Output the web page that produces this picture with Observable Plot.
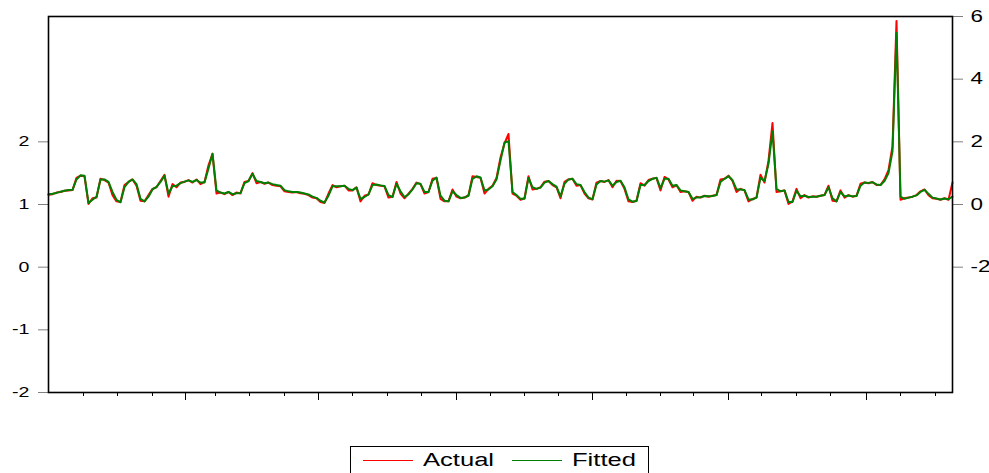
<!DOCTYPE html>
<html><head><meta charset="utf-8">
<script src="https://cdn.jsdelivr.net/npm/d3@7"></script>
<script src="https://cdn.jsdelivr.net/npm/@observablehq/plot@0.6"></script>
<style>
body{margin:0;background:#fff;}
#wrap{position:relative;width:989px;height:473px;overflow:hidden;background:#fff;}
#legend{position:absolute;left:350px;top:446px;width:299px;height:34px;border:1px solid #000;box-sizing:border-box;font-family:"Liberation Sans",Arial,sans-serif;font-size:18px;color:#000;background:#fff;}
#legend .sw{position:absolute;top:13px;width:50px;height:1.2px;}
#legend .lb{position:absolute;top:2px;line-height:22px;transform-origin:0 50%;transform:scaleX(1.42);white-space:nowrap;}
</style></head><body><div id="wrap"><div id="chart"></div><div id="legend"></div></div>
<script>
// Observations (evenly spaced), right-hand axis units
const actual = [
0.31,0.33,0.38,0.40,0.44,0.45,0.46,0.85,0.92,0.90,
0.02,0.20,0.22,0.82,0.78,0.70,0.30,0.10,0.08,0.62,
0.72,0.80,0.60,0.12,0.10,0.30,0.50,0.55,0.75,0.95,
0.25,0.65,0.55,0.70,0.72,0.78,0.70,0.80,0.65,0.72,
1.25,1.62,0.35,0.38,0.33,0.40,0.30,0.38,0.35,0.72,
0.75,1.00,0.68,0.72,0.66,0.70,0.62,0.60,0.58,0.42,
0.40,0.38,0.40,0.36,0.34,0.30,0.22,0.20,0.08,0.05,
0.35,0.62,0.55,0.58,0.60,0.45,0.45,0.55,0.10,0.28,
0.32,0.68,0.62,0.60,0.58,0.22,0.25,0.72,0.35,0.20,
0.35,0.50,0.70,0.65,0.35,0.40,0.82,0.85,0.18,0.10,
0.10,0.48,0.25,0.20,0.22,0.30,0.90,0.88,0.85,0.35,
0.50,0.60,0.85,1.50,1.95,2.25,0.35,0.28,0.15,0.20,
0.90,0.48,0.50,0.55,0.73,0.75,0.62,0.55,0.20,0.72,
0.80,0.82,0.60,0.62,0.35,0.20,0.16,0.70,0.75,0.72,
0.78,0.55,0.76,0.75,0.50,0.10,0.08,0.12,0.68,0.60,
0.78,0.82,0.85,0.45,0.88,0.80,0.55,0.62,0.40,0.42,
0.40,0.12,0.25,0.22,0.28,0.25,0.28,0.30,0.80,0.82,
0.92,0.75,0.40,0.50,0.45,0.10,0.18,0.22,0.95,0.70,
1.40,2.60,0.40,0.42,0.45,0.02,0.10,0.50,0.20,0.30,
0.22,0.26,0.25,0.28,0.30,0.60,0.12,0.10,0.45,0.22,
0.30,0.25,0.28,0.66,0.70,0.68,0.72,0.62,0.62,0.80,
1.10,1.85,5.86,0.15,0.20,0.22,0.25,0.30,0.42,0.48,
0.30,0.20,0.18,0.15,0.20,0.15,0.70
];
const fitted = [
0.33,0.34,0.37,0.41,0.44,0.46,0.47,0.80,0.93,0.92,
0.05,0.15,0.25,0.80,0.80,0.72,0.40,0.15,0.07,0.55,
0.72,0.80,0.65,0.18,0.10,0.25,0.48,0.56,0.72,0.92,
0.35,0.58,0.60,0.68,0.73,0.77,0.72,0.78,0.70,0.70,
1.15,1.62,0.45,0.38,0.35,0.40,0.33,0.36,0.37,0.68,
0.75,0.98,0.75,0.72,0.68,0.70,0.65,0.62,0.60,0.46,
0.42,0.40,0.40,0.38,0.35,0.32,0.25,0.21,0.12,0.06,
0.28,0.58,0.58,0.58,0.60,0.50,0.46,0.54,0.18,0.24,
0.32,0.62,0.64,0.61,0.59,0.30,0.24,0.66,0.42,0.24,
0.32,0.48,0.68,0.66,0.40,0.40,0.76,0.86,0.28,0.12,
0.10,0.42,0.30,0.21,0.22,0.28,0.82,0.90,0.86,0.45,
0.48,0.58,0.80,1.40,1.98,2.02,0.40,0.30,0.18,0.18,
0.85,0.55,0.50,0.54,0.70,0.75,0.65,0.57,0.26,0.66,
0.80,0.82,0.65,0.62,0.40,0.22,0.17,0.64,0.75,0.73,
0.77,0.60,0.72,0.76,0.55,0.16,0.09,0.11,0.62,0.62,
0.75,0.82,0.85,0.52,0.82,0.82,0.60,0.62,0.45,0.42,
0.40,0.18,0.22,0.23,0.27,0.26,0.27,0.30,0.72,0.82,
0.90,0.78,0.48,0.48,0.46,0.16,0.16,0.22,0.85,0.75,
1.30,2.33,0.50,0.42,0.45,0.08,0.08,0.44,0.26,0.28,
0.24,0.25,0.25,0.28,0.30,0.55,0.20,0.10,0.40,0.26,
0.29,0.26,0.27,0.60,0.70,0.69,0.71,0.64,0.62,0.75,
1.00,1.70,5.48,0.25,0.18,0.22,0.25,0.29,0.40,0.47,
0.34,0.22,0.19,0.16,0.19,0.17,0.25
];
const seriesNames = ["Actual", "Fitted"];
const seriesColors = ["#ff0000", "#008000"];
const leftTicks = [-2, -1, 0, 1, 2];        // left axis domain [-2, 4]
const leftDomain = [-2, 4];
const rightTicks = [-2, 0, 2, 4, 6];        // right axis domain [-6, 6]
const rightDomain = [-6, 6];
const xMajorTicks = [34.25, 67.5, 102, 136, 170, 204.5];
const xMinorTicks = [8.75, 17.25, 26, 41.75, 50.25, 59, 76, 84.75, 93.25, 110.5, 119, 127.5, 144.5, 153, 161.25, 178.25, 187, 195.5, 213, 221.75];

const actualRows = actual.map((v, i) => ({i, v}));
const fittedRows = fitted.map((v, i) => ({i, v}));
// map a left-axis value onto the right-axis (plotting) scale
const l2r = v => rightDomain[0] + (v - leftDomain[0]) * (rightDomain[1] - rightDomain[0]) / (leftDomain[1] - leftDomain[0]);
const r2l = r => leftDomain[0] + (r - rightDomain[0]) * (leftDomain[1] - leftDomain[0]) / (rightDomain[1] - rightDomain[0]);

const font = "Liberation Sans, Arial, sans-serif";
const chart = Plot.plot({
  width: 989, height: 440,
  marginTop: 16, marginBottom: 48, marginLeft: 48, marginRight: 37,
  x: {domain: [0, actual.length - 1]},
  y: {domain: rightDomain},
  style: {fontFamily: font, background: "#fff", color: "#000"},
  marks: [
    Plot.line(actualRows, {x: "i", y: "v", stroke: seriesColors[0], strokeWidth: 2}),
    Plot.line(fittedRows, {x: "i", y: "v", stroke: seriesColors[1], strokeWidth: 2}),
    Plot.axisY(leftTicks.map(l2r), {anchor: "left", tickSize: 10, tickPadding: 9, stroke: "#808080", fill: "#000", fontSize: 14, tickFormat: d => String(Math.round(r2l(d))), label: null}),
    Plot.axisY(rightTicks, {anchor: "right", tickSize: 10, tickPadding: 8, stroke: "#808080", fill: "#000", fontSize: 16, tickFormat: d => String(d), label: null}),
    Plot.axisX(xMinorTicks, {anchor: "bottom", tickSize: 4, stroke: "#000", tickFormat: () => "", label: null}),
    Plot.axisX(xMajorTicks, {anchor: "bottom", tickSize: 8, stroke: "#000", tickFormat: () => "", label: null}),
    Plot.frame({stroke: "#000", strokeWidth: 1.6})
  ]
});
document.getElementById("chart").appendChild(chart);

// widen axis label glyphs like the reference font (scale about each label's anchor)
chart.querySelectorAll('g[aria-label="y-axis tick label"] text').forEach(t => {
  const tr = t.getAttribute("transform");
  if (tr) {
    t.setAttribute("transform", `${tr} scale(1.4,1)`);
  } else {
    const x = parseFloat(t.getAttribute("x")) || 0;
    t.setAttribute("transform", `translate(${x},0) scale(1.4,1) translate(${-x},0)`);
  }
});

// legend
const lg = document.getElementById("legend");
const swX = [12, 161], lbX = [72, 221];
seriesNames.forEach((name, k) => {
  const sw = document.createElement("div");
  sw.className = "sw"; sw.style.left = swX[k] + "px"; sw.style.background = seriesColors[k];
  const lb = document.createElement("div");
  lb.className = "lb"; lb.style.left = lbX[k] + "px"; lb.textContent = name;
  lg.appendChild(sw); lg.appendChild(lb);
});
</script>
</body></html>
